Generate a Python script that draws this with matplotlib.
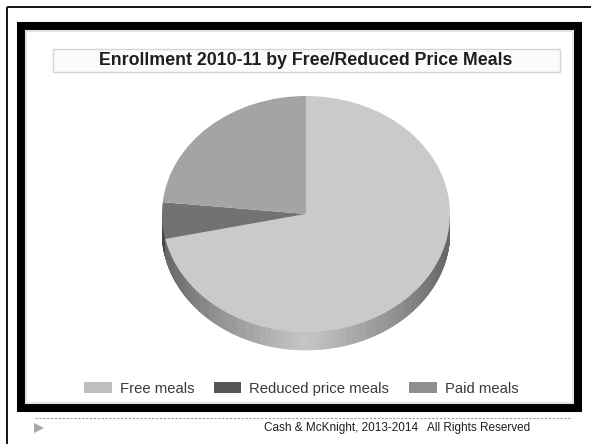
import numpy as np
import matplotlib
matplotlib.use('Agg')
import matplotlib.pyplot as plt
from matplotlib.patches import Rectangle, Patch, Polygon
from matplotlib.collections import PolyCollection

# ---- data ----
categories = ['Free meals', 'Reduced price meals', 'Paid meals']
values = [71.6, 5.0, 23.4]
top_colors = ['#cacaca', '#727272', '#a4a4a4']
side_base = [196, 135, 165]
legend_colors = ['#bebebe', '#555555', '#8e8e8e']
title = 'Enrollment 2010-11 by Free/Reduced Price Meals'
footer_left = 'Cash & McKnight, 2013-2014'
footer_right = 'All Rights Reserved'

plt.rcParams['font.family'] = ['Liberation Sans', 'DejaVu Sans']

W, H = 591, 444
fig = plt.figure(figsize=(W / 100, H / 100), dpi=100)
fig.patch.set_facecolor('white')

bg = fig.add_axes([0, 0, 1, 1])
bg.set_xlim(0, W)
bg.set_ylim(H, 0)
bg.axis('off')

# outer thin border
bg.plot([6.5, W], [7, 7], color='black', lw=1.3, solid_capstyle='butt')
bg.plot([6.5, 6.5], [7, H], color='black', lw=1.3, solid_capstyle='butt')
# thick frame
bg.add_patch(Rectangle((21, 26), 557, 382, fill=False, edgecolor='black', lw=5.8))
bg.add_patch(Rectangle((25.8, 30.8), 547.4, 372.4, fill=False, edgecolor='#e2e2e2', lw=1.5))
# title box
bg.add_patch(Rectangle((53, 49), 507, 23, facecolor='#fbfbfb', edgecolor='#d6d6d6', lw=1.0))
bg.text(305.5, 60.5, title, ha='center', va='center', fontsize=12.8,
        fontweight='bold', color='#1e1e1e')

# footer
bg.plot([35, 571], [417.5, 417.5], color='#9a9a9a', lw=0.8, linestyle=(0, (2, 1.5)))
bg.plot([39], [428], marker='>', color='#a8a8a8', markersize=7, markeredgewidth=0)
bg.text(418, 428, footer_left, ha='right', va='center', fontsize=8.5, color='#1e1e1e')
bg.text(427, 428, footer_right, ha='left', va='center', fontsize=8.5, color='#1e1e1e')

# ---- pie ----
cx, cy, rx, ry, depth = 306, 214, 144, 118, 18
ylow = -1.3
ax = fig.add_axes([(cx - rx) / W, (H - (cy - ylow * ry)) / H, 2 * rx / W, (1 - ylow) * ry / H])
ax.patch.set_alpha(0)

total = float(sum(values))
cum = np.cumsum(values) / total
d = depth / ry

def slice_of(a_deg):
    c = ((90 - a_deg) % 360) / 360.0
    return int(np.searchsorted(cum, c, side='right'))

quads, cols = [], []
angles = np.arange(180, 360.01, 0.5)
for a1, a2 in zip(angles[:-1], angles[1:]):
    am = 0.5 * (a1 + a2)
    i = min(slice_of(am), len(values) - 1)
    r1, r2 = np.radians(a1), np.radians(a2)
    quads.append([(np.cos(r1), np.sin(r1)), (np.cos(r2), np.sin(r2)),
                  (np.cos(r2), np.sin(r2) - d), (np.cos(r1), np.sin(r1) - d)])
    x = abs(np.cos(np.radians(am)))
    f = 1 - 0.48 * x ** 1.1
    g = side_base[i] * f / 255.0
    cols.append((g, g, g))
pc = PolyCollection(quads, facecolors=cols, edgecolors=cols, linewidths=0.4, zorder=1)
ax.add_collection(pc)

wedges, _ = ax.pie(values, colors=top_colors, startangle=90, counterclock=False,
                   radius=1, wedgeprops=dict(linewidth=0))
for w in wedges:
    w.set_zorder(3)
ax.set_aspect('auto')
ax.set_xlim(-1, 1)
ax.set_ylim(ylow, 1)
ax.axis('off')

# ---- legend ----
handles = [Patch(facecolor=c, edgecolor='none') for c in legend_colors]
leg = fig.legend(handles, categories, loc='center', bbox_to_anchor=(301 / W, 1 - 388.5 / H),
                 ncol=3, frameon=False, fontsize=10.7, handlelength=1.88, handleheight=0.74,
                 handletextpad=0.54, columnspacing=1.3, borderpad=0, borderaxespad=0)
for t in leg.get_texts():
    t.set_color('#3a3a3a')

fig.savefig('out.png', dpi=100)
